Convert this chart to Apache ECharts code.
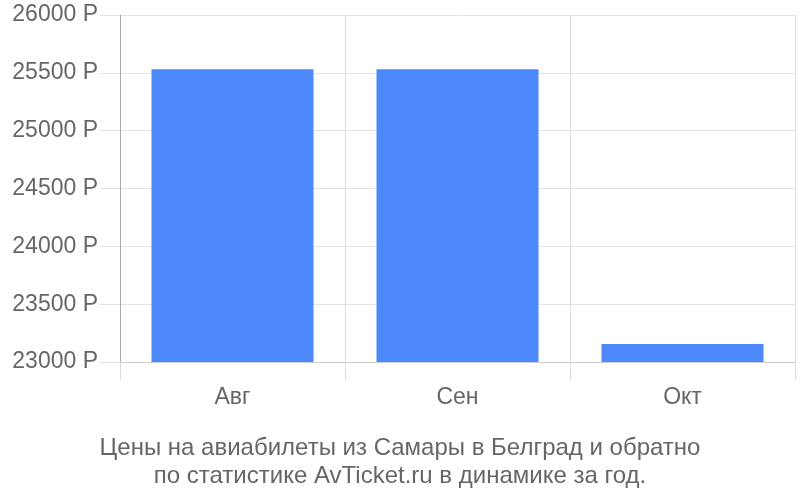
<!DOCTYPE html>
<html><head><meta charset="utf-8">
<script src="https://cdn.jsdelivr.net/npm/echarts@6/dist/echarts.min.js"></script>
<style>html,body{margin:0;padding:0;background:#fff}#c{width:800px;height:500px}</style>
</head><body><div id="c"></div>
<script>
const categories = ['Авг', 'Сен', 'Окт'];
const prices = [25530, 25530, 23155];
const yTicks = { min: 23000, max: 26000, step: 500 };
const titleLines = ['Цены на авиабилеты из Самары в Белград и обратно', 'по статистике AvTicket.ru в динамике за год.'];

const chart = echarts.init(document.getElementById('c'), null, { renderer: 'canvas' });
const font = 'Liberation Sans, Arial, sans-serif';
chart.setOption({
  animation: false,
  title: {
    text: titleLines.join('\n'),
    left: 'center', top: 429,
    textStyle: { color: '#666', fontSize: 24, fontWeight: 'normal', fontFamily: font, lineHeight: 28 }
  },
  grid: { left: 120, right: 5, top: 15, bottom: 138 },
  xAxis: {
    type: 'category', data: categories,
    axisLine: { lineStyle: { color: '#ccc' } },
    axisTick: { show: true, length: 18, lineStyle: { color: '#ddd' } },
    splitLine: { show: true, lineStyle: { color: '#ddd' } },
    axisLabel: { color: '#666', fontSize: 23, fontFamily: font, margin: 24 }
  },
  yAxis: {
    type: 'value', min: yTicks.min, max: yTicks.max, interval: yTicks.step,
    axisLine: { show: true, lineStyle: { color: '#aaa' } },
    axisTick: { show: true, length: 20, lineStyle: { color: '#e3e3e3' } },
    splitLine: { lineStyle: { color: '#e3e3e3' } },
    axisLabel: { color: '#666', fontSize: 23, fontFamily: font, margin: 22, formatter: v => v + ' Р' }
  },
  series: [{
    type: 'bar', data: prices, barWidth: '72%',
    itemStyle: { color: '#4d89fa' }
  }]
});
</script></body></html>
